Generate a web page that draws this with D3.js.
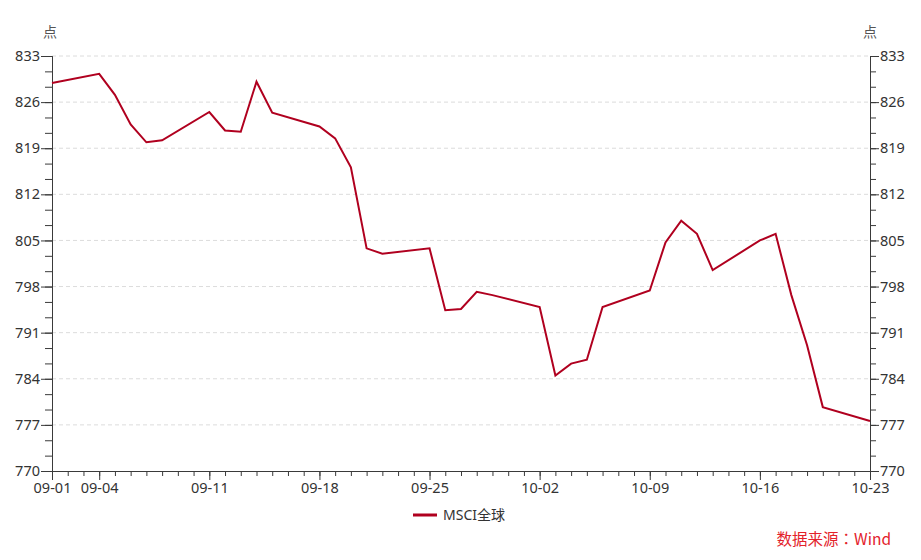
<!DOCTYPE html>
<html>
<head>
<meta charset="utf-8">
<script src="https://cdn.jsdelivr.net/npm/d3@7/dist/d3.min.js"></script>
<style>
  html, body { margin: 0; padding: 0; background: #fff; }
  svg { display: block; font-family: "Noto Sans", "Noto Sans CJK SC", sans-serif; }
</style>
</head>
<body>
<svg id="chart" width="921" height="560"></svg>
<script>
const dates = ["2023-09-01","2023-09-04","2023-09-05","2023-09-06","2023-09-07","2023-09-08",
  "2023-09-11","2023-09-12","2023-09-13","2023-09-14","2023-09-15",
  "2023-09-18","2023-09-19","2023-09-20","2023-09-21","2023-09-22",
  "2023-09-25","2023-09-26","2023-09-27","2023-09-28","2023-09-29",
  "2023-10-02","2023-10-03","2023-10-04","2023-10-05","2023-10-06",
  "2023-10-09","2023-10-10","2023-10-11","2023-10-12","2023-10-13",
  "2023-10-16","2023-10-17","2023-10-18","2023-10-19","2023-10-20",
  "2023-10-23"];
const msciValues = [828.9, 830.3, 827.1, 822.6, 819.9, 820.2,
  824.5, 821.7, 821.5, 829.1, 824.4,
  822.3, 820.5, 816.1, 803.8, 803.0,
  803.8, 794.4, 794.6, 797.2, 796.7,
  794.9, 784.5, 786.3, 786.9, 794.9,
  797.4, 804.7, 808.0, 806.0, 800.5,
  805.0, 806.0, 796.7, 789.1, 779.7,
  777.6];
const xTickLabels = ["09-01","09-04","09-11","09-18","09-25","10-02","10-09","10-16","10-23"];
const yTicks = [770, 777, 784, 791, 798, 805, 812, 819, 826, 833];
const seriesName = "MSCI全球";
const unitLabel = "点";
const sourceText = "数据来源：Wind";

(function () {
const svg = d3.select("#chart");
const mLeft = 52, mRight = 870, mTop = 56, mBottom = 471;
const parse = d3.utcParse("%Y-%m-%d");
const data = dates.map((d, i) => ({ date: parse(d), value: msciValues[i] }));

const x = d3.scaleUtc().domain([parse("2023-09-01"), parse("2023-10-23")]).range([mLeft, mRight]);
const y = d3.scaleLinear().domain([770, 833]).range([mBottom, mTop]);

const majorX = xTickLabels.map(s => parse("2023-" + s));
const minorX = d3.utcDay.range(parse("2023-09-01"), d3.utcDay.offset(parse("2023-10-23"), 1));
const minorY = d3.range(0, 28).map(i => 770 + i * 7 / 3).filter(v => v <= 833.001);

// grid
svg.append("g").selectAll("line").data(yTicks.filter(v => v > 770)).join("line")
  .attr("x1", mLeft).attr("x2", mRight)
  .attr("y1", d => y(d)).attr("y2", d => y(d))
  .attr("stroke", "#dcdcdc").attr("stroke-width", 1).attr("stroke-dasharray", "4,3");

const axisColor = "#3a3a3a";
const textColor = "#333";

function styleAxis(g) {
  g.selectAll("path").attr("stroke", axisColor);
  g.selectAll("line").attr("stroke", axisColor);
  g.selectAll("text").attr("fill", textColor).style("font-size", "14.5px")
    .style("font-family", "'Noto Sans', 'Noto Sans CJK SC', sans-serif");
}

// x axis minor
svg.append("g").attr("transform", `translate(0,${mBottom})`)
  .call(d3.axisBottom(x).tickValues(minorX).tickSize(5).tickFormat(""))
  .call(styleAxis);
// x axis major
svg.append("g").attr("transform", `translate(0,${mBottom})`)
  .call(d3.axisBottom(x).tickValues(majorX).tickSize(9).tickPadding(3)
    .tickFormat((d, i) => xTickLabels[i]))
  .call(styleAxis);

// left axis
svg.append("g").attr("transform", `translate(${mLeft},0)`)
  .call(d3.axisLeft(y).tickValues(minorY).tickSize(7).tickFormat(""))
  .call(styleAxis);
svg.append("g").attr("transform", `translate(${mLeft},0)`)
  .call(d3.axisLeft(y).tickValues(yTicks).tickSize(11).tickPadding(1).tickFormat(d3.format("d")))
  .call(styleAxis);

// right axis
svg.append("g").attr("transform", `translate(${mRight},0)`)
  .call(d3.axisRight(y).tickValues(minorY).tickSize(6).tickFormat(""))
  .call(styleAxis);
svg.append("g").attr("transform", `translate(${mRight},0)`)
  .call(d3.axisRight(y).tickValues(yTicks).tickSize(9).tickPadding(1).tickFormat(d3.format("d")))
  .call(styleAxis);

// unit labels
svg.append("text").attr("x", 50).attr("y", 37).attr("text-anchor", "middle")
  .attr("fill", "#555").style("font-size", "14px").text(unitLabel);
svg.append("text").attr("x", 870).attr("y", 37).attr("text-anchor", "middle")
  .attr("fill", "#555").style("font-size", "14px").text(unitLabel);

// line
const lineColor = "#b0001f";
svg.append("path").datum(data)
  .attr("fill", "none").attr("stroke", lineColor).attr("stroke-width", 2)
  .attr("stroke-linejoin", "miter")
  .attr("d", d3.line().x(d => x(d.date)).y(d => y(d.value)));

// legend
svg.append("line").attr("x1", 413).attr("x2", 437).attr("y1", 515).attr("y2", 515)
  .attr("stroke", lineColor).attr("stroke-width", 3);
svg.append("text").attr("x", 443).attr("y", 520).attr("fill", textColor)
  .style("font-size", "14px").text(seriesName);

// source
svg.append("text").attr("x", 891).attr("y", 545).attr("text-anchor", "end")
  .attr("fill", "#e3222b").style("font-size", "15.5px")
  .style("font-family", "'Noto Sans CJK TC', 'Noto Sans CJK SC', sans-serif").text(sourceText);
})();
</script>
</body>
</html>
